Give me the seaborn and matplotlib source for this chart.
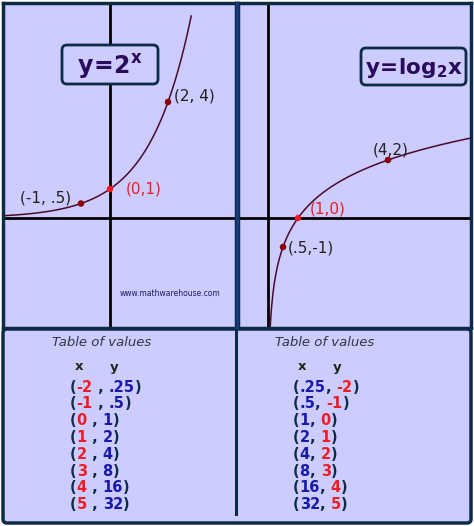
import matplotlib
matplotlib.use("Agg")
import matplotlib.pyplot as plt
import seaborn as sns
import numpy as np
import pandas as pd
from matplotlib.patches import FancyBboxPatch, Rectangle

# data
exp_pts_x = [-1, 0, 2]
exp_pts_y = [0.5, 1, 4]
exp_labels = ["(-1, .5)", "(0,1)", "(2, 4)"]

log_pts_x = [0.5, 1, 4]
log_pts_y = [-1, 0, 2]
log_labels = ["(.5,-1)", "(1,0)", "(4,2)"]

tbl_x = ["-2", "-1", "0", "1", "2", "3", "4", "5"]
tbl_y = [".25", ".5", "1", "2", "4", "8", "16", "32"]

BG = "#ccccff"
EDGE = "#0d2b45"
RED = "#ee1c25"
BLUE = "#1a1aa8"
PT = "#8b0000"

W, H = 474, 526
fig = plt.figure(figsize=(W / 100, H / 100), dpi=100)
fig.patch.set_facecolor("white")


def px_axes(x0, y0, x1, y1):
    return fig.add_axes([x0 / W, 1 - y1 / H, (x1 - x0) / W, (y1 - y0) / H])


# graph panels
axL = px_axes(3, 3, 236, 328)
axR = px_axes(238, 3, 471, 328)
for ax, ox, sx in [(axL, 110, 29), (axR, 268, 30)]:
    ax.set_facecolor(BG)
    x0 = (3 - ox) / sx if ax is axL else (238 - ox) / sx
    x1 = (236 - ox) / sx if ax is axL else (471 - ox) / sx
    ax.set_xlim(x0, x1)
    ax.set_ylim((218 - 328) / 29, (218 - 3) / 29)
    ax.axhline(0, color="black", lw=2.0)
    ax.axvline(0, color="black", lw=2.0)
    ax.set_xticks([])
    ax.set_yticks([])
    for s in ax.spines.values():
        s.set_color(EDGE)
        s.set_linewidth(2.5)

ex = np.linspace(-3.7, 2.8, 200)
sns.lineplot(x=ex, y=2 ** ex, ax=axL, color="#4a0a2a", lw=1.1)
sns.scatterplot(x=exp_pts_x, y=exp_pts_y, ax=axL, color=[PT, RED, PT], s=22,
                edgecolor="none", zorder=5)
axL.text(-3.1, 0.55, exp_labels[0], fontsize=11, color="#222222")
axL.text(0.55, 0.85, exp_labels[1], fontsize=11, color=RED)
axL.text(2.2, 4.05, exp_labels[2], fontsize=11, color="#222222")

lx = np.linspace(0.03, 6.8, 300)
sns.lineplot(x=lx, y=np.log2(lx), ax=axR, color="#4a0a2a", lw=1.1)
sns.scatterplot(x=log_pts_x, y=log_pts_y, ax=axR, color=[PT, RED, PT], s=22,
                edgecolor="none", zorder=5)
axR.text(0.65, -1.2, log_labels[0], fontsize=11, color="#222222")
axR.text(1.4, 0.15, log_labels[1], fontsize=11, color=RED)
axR.text(3.5, 2.2, log_labels[2], fontsize=11, color="#222222")

axL.text(0.5, 0.1, "www.mathwarehouse.com", transform=axL.transAxes,
         fontsize=5.5, color="#1a1a66")

# overlay for boxes and tables
ov = fig.add_axes([0, 0, 1, 1])
ov.set_xlim(0, W)
ov.set_ylim(H, 0)
ov.axis("off")
ov.plot([237, 237], [3, 328], color="#1a3a8a", lw=1.8)

for (bx0, by0, bx1, by1, kind) in [(62, 45, 158, 84, "exp"), (361, 48, 466, 85, "log")]:
    ov.add_patch(FancyBboxPatch((bx0, by0), bx1 - bx0, by1 - by0,
                                boxstyle="round,pad=0,rounding_size=5",
                                fc=BG, ec=EDGE, lw=2))
    cx, cy = (bx0 + bx1) / 2, (by0 + by1) / 2
    if kind == "exp":
        ov.text(cx, cy + 2, r"$\mathbf{y\!=\!2^x}$", fontsize=17, color="#2a0a5a",
                ha="center", va="center")
    else:
        ov.text(cx, cy + 2, r"$\mathbf{y\!=\!log_2x}$", fontsize=15.5, color="#2a0a5a",
                ha="center", va="center")

# table box
ov.add_patch(FancyBboxPatch((3, 329), 468, 194, boxstyle="round,pad=0,rounding_size=4",
                            fc=BG, ec=EDGE, lw=2.5))
ov.plot([236, 236], [331, 514], color=EDGE, lw=2.2)


def row(x, y, pieces):
    t = ov.text(x, y, pieces[0][0], color=pieces[0][1], fontsize=10.5,
                fontweight="bold", va="center")
    for s, c in pieces[1:]:
        t = ov.annotate(s, xy=(1, 0), xycoords=t, color=c, fontsize=10.5,
                        fontweight="bold", va="bottom")
    return t


DK = "#0d2b45"
for sx, hx0, hx1, swap in [(52, 75, 110, 0), (275, 298, 333, 1)]:
    ov.text(sx, 343, "Table of values", fontsize=9.5, style="italic",
            color="#333344", va="center")
    ov.text(hx0, 367, "x", fontsize=9.5, fontweight="bold", color="#1a2a1a", va="center")
    ov.text(hx1, 367, "y", fontsize=9.5, fontweight="bold", color="#1a2a1a", va="center")
    for i in range(len(tbl_x)):
        yy = 387 + i * 16.8
        if not swap:
            row(70, yy, [("(", DK), (tbl_x[i], RED), (" , ", DK), (tbl_y[i], BLUE), (")", DK)])
        else:
            row(293, yy, [("(", DK), (tbl_y[i], BLUE), (", ", DK), (tbl_x[i], RED), (")", DK)])

fig.savefig("out.png", dpi=100, facecolor="white")
